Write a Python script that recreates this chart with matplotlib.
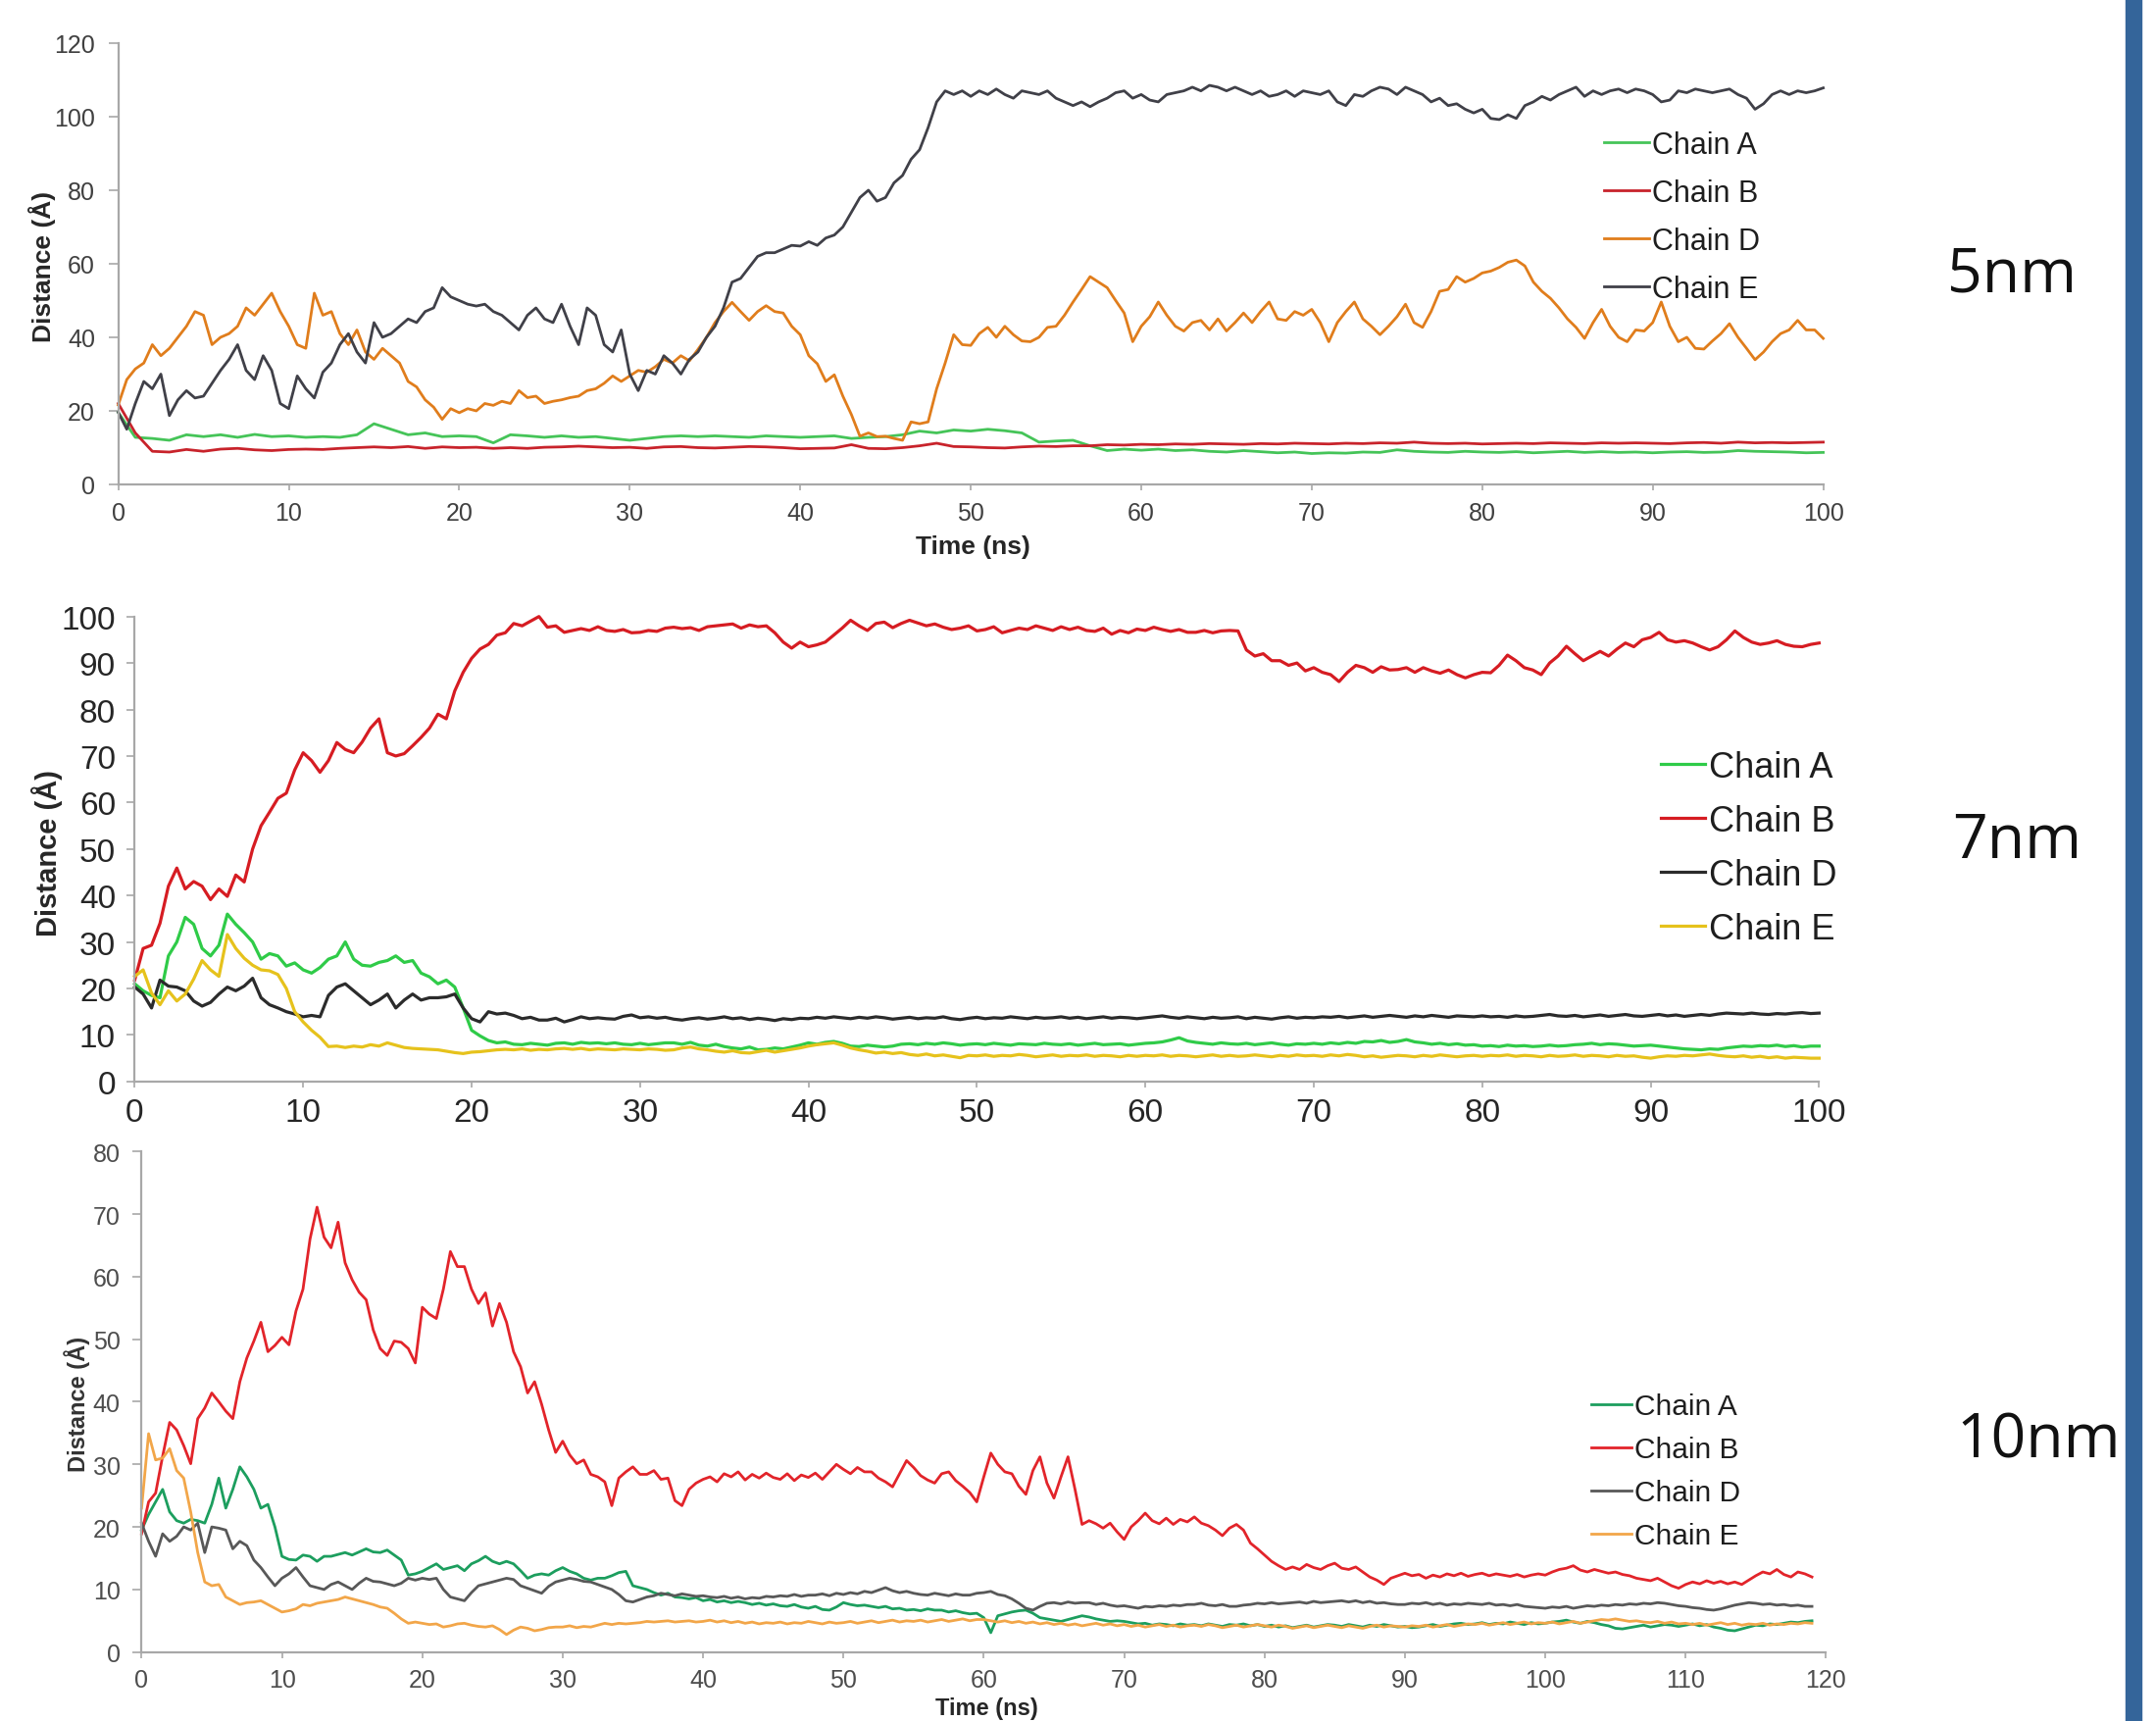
import numpy as np
import matplotlib
matplotlib.use('Agg')
import matplotlib.pyplot as plt
from matplotlib.patches import Rectangle

plt.rcParams['font.family'] = ['Liberation Sans', 'DejaVu Sans']

chains = ['Chain A', 'Chain B', 'Chain D', 'Chain E']
panel_names = ['5nm', '7nm', '10nm']

# ---- 5nm panel ----
# chain A / B read every 1 ns
nm5_a = [19.6, 12.8, 12.5, 12.0, 13.5, 13.0, 13.5, 12.8, 13.6, 13.0,
         13.2, 12.8, 13.0, 12.8, 13.5, 16.5, 15.0, 13.5, 14.0, 13.0,
         13.2, 13.0, 11.3, 13.5, 13.2, 12.8, 13.2, 12.8, 13.0, 12.5,
         12.0, 12.5, 13.0, 13.2, 13.0, 13.2, 13.0, 12.8, 13.2, 13.0,
         12.8, 13.0, 13.2, 12.5, 12.8, 13.0, 13.5, 14.5, 14.0, 14.8,
         14.5, 15.0, 14.6, 14.0, 11.5, 11.8, 12.0, 10.5, 9.2, 9.6,
         9.3, 9.6, 9.2, 9.4, 9.0, 8.8, 9.2, 8.9, 8.6, 8.8,
         8.4, 8.6, 8.5, 8.8, 8.7, 9.4, 9.0, 8.8, 8.7, 9.0,
         8.8, 8.7, 8.9, 8.6, 8.8, 9.0, 8.7, 8.9, 8.7, 8.8,
         8.6, 8.8, 8.9, 8.7, 8.8, 9.2, 9.0, 8.9, 8.8, 8.6,
         8.7]
nm5_b = [22.0, 14.0, 9.0, 8.8, 9.5, 9.0, 9.6, 9.8, 9.4, 9.2,
         9.5, 9.6, 9.5, 9.8, 10.0, 10.2, 10.0, 10.3, 9.8, 10.2,
         10.0, 10.1, 9.8, 10.0, 9.8, 10.1, 10.2, 10.4, 10.2, 10.0,
         10.1, 9.8, 10.2, 10.3, 10.0, 9.9, 10.1, 10.3, 10.2, 10.0,
         9.7, 9.8, 9.9, 10.8, 9.8, 9.7, 10.0, 10.5, 11.2, 10.3,
         10.2, 10.0, 9.9, 10.2, 10.4, 10.3, 10.5, 10.5, 10.8, 10.7,
         10.9, 10.8, 11.0, 10.9, 11.1, 11.0, 10.9, 11.1, 11.0, 11.2,
         11.1, 11.0, 11.2, 11.1, 11.3, 11.2, 11.5, 11.2, 11.1, 11.2,
         11.0, 11.1, 11.2, 11.1, 11.3, 11.2, 11.1, 11.3, 11.2, 11.3,
         11.2, 11.1, 11.3, 11.4, 11.2, 11.5, 11.3, 11.4, 11.3, 11.4,
         11.5]
# chain D / E read every 0.5 ns
nm5_d = [21.6, 28.5, 31.4, 33.0, 38.0, 35.0, 37.0, 40.0, 43.0, 47.0,
         46.0, 38.0, 40.0, 41.0, 43.0, 48.0, 46.0, 49.0, 52.0, 47.0,
         43.0, 38.0, 37.0, 52.0, 46.0, 47.0, 41.0, 38.0, 42.0, 36.0,
         34.0, 37.0, 35.0, 33.0, 28.0, 26.5, 23.0, 21.0, 17.7, 20.6,
         19.5, 20.6, 20.0, 22.0, 21.5, 22.6, 22.0, 25.5, 23.6, 24.0,
         22.0, 22.6, 23.0, 23.6, 24.0, 25.5, 26.0, 27.5, 29.5, 28.0,
         29.5, 31.0, 30.5, 32.0, 34.0, 33.0, 35.0, 33.6, 36.7, 40.0,
         44.0, 47.0, 49.5, 47.0, 44.6, 47.0, 48.6, 47.0, 46.6, 43.0,
         40.7, 35.0, 32.8, 28.0, 29.8, 24.0, 19.0, 13.1, 14.0, 13.0,
         13.1, 12.5, 12.0, 17.0, 16.5, 17.0, 26.0, 33.0, 40.7, 38.0,
         37.8, 41.0, 42.7, 40.0, 43.0, 40.7, 39.0, 38.8, 40.0, 42.7,
         43.0, 46.0, 49.6, 53.0, 56.5, 55.0, 53.5, 50.0, 46.6, 38.8,
         43.0, 45.6, 49.6, 46.0, 43.0, 41.7, 44.0, 44.6, 42.0, 45.0,
         41.7, 44.0, 46.6, 44.0, 47.0, 49.6, 45.0, 44.6, 47.0, 46.0,
         47.6, 44.0, 38.8, 44.0, 47.0, 49.6, 45.0, 43.0, 40.7, 43.0,
         45.6, 49.0, 44.0, 42.7, 47.0, 52.5, 53.0, 56.5, 55.0, 56.0,
         57.5, 58.0, 59.0, 60.4, 61.0, 59.4, 55.0, 52.5, 50.6, 48.0,
         45.0, 42.7, 39.7, 44.0, 47.6, 43.0, 40.0, 38.8, 42.0, 41.7,
         44.0, 49.6, 43.0, 38.8, 40.0, 37.0, 36.8, 39.0, 41.0, 43.7,
         40.0, 37.0, 33.9, 36.0, 38.8, 41.0, 42.0, 44.6, 42.0, 42.0,
         39.7]
nm5_e = [19.6, 15.0, 22.0, 28.0, 26.0, 30.0, 18.7, 23.0, 25.5, 23.5,
         24.0, 27.5, 31.0, 34.0, 38.0, 31.0, 28.5, 35.0, 31.0, 22.0,
         20.6, 29.5, 26.0, 23.5, 30.5, 33.0, 38.0, 41.0, 36.0, 33.0,
         44.0, 40.0, 41.0, 43.0, 45.0, 44.0, 47.0, 48.0, 53.5, 51.0,
         50.0, 49.0, 48.5, 49.0, 47.0, 46.0, 44.0, 42.0, 46.0, 48.0,
         45.0, 44.0, 49.0, 43.0, 38.0, 48.0, 46.0, 38.0, 36.0, 42.0,
         30.0, 25.5, 31.0, 30.0, 35.0, 33.0, 30.0, 34.0, 36.0, 40.0,
         43.0, 48.0, 55.0, 56.0, 59.0, 62.0, 63.0, 63.0, 64.0, 65.0,
         64.8, 66.0, 65.0, 67.0, 67.8, 70.0, 74.0, 78.0, 80.0, 77.0,
         78.0, 82.0, 84.0, 88.4, 91.0, 97.0, 104.0, 107.0, 106.0, 107.0,
         105.5, 107.0, 106.0, 107.5, 106.0, 105.0, 107.0, 106.5, 106.0, 107.0,
         105.0, 104.0, 103.0, 104.0, 102.7, 104.0, 105.0, 106.5, 107.0, 105.0,
         106.0, 104.5, 104.0, 106.0, 106.5, 107.0, 108.0, 107.0, 108.5, 108.0,
         107.0, 108.0, 107.0, 106.0, 107.0, 105.5, 106.0, 107.0, 105.5, 107.0,
         106.5, 106.0, 107.0, 104.0, 103.0, 106.0, 105.5, 107.0, 108.0, 107.5,
         106.0, 108.0, 107.0, 106.0, 104.0, 105.0, 103.0, 103.5, 102.0, 101.0,
         102.0, 99.5, 99.2, 100.5, 99.5, 103.0, 104.0, 105.5, 104.5, 106.0,
         107.0, 108.0, 105.5, 107.0, 106.0, 107.0, 107.5, 106.5, 107.5, 107.0,
         106.0, 104.0, 104.5, 107.0, 106.5, 107.5, 107.0, 106.5, 107.0, 107.5,
         106.0, 105.0, 102.0, 103.5, 106.0, 107.0, 106.0, 107.0, 106.5, 107.0,
         107.8]

# ---- 7nm panel, every 0.5 ns ----
nm7_a = [21.0, 19.5, 18.5, 18.0, 27.0, 30.0, 35.3, 33.8, 28.6, 27.0,
         29.3, 36.0, 33.8, 32.0, 30.0, 26.3, 27.5, 27.0, 24.8, 25.5,
         24.0, 23.3, 24.5, 26.3, 27.0, 30.0, 26.3, 25.0, 24.8, 25.6,
         26.0, 27.0, 25.6, 26.0, 23.3, 22.5, 21.0, 21.8, 20.3, 15.8,
         11.0, 9.8, 8.8, 8.3, 8.5, 8.0, 7.9, 8.2, 8.0, 7.8,
         8.2, 8.3, 8.0, 8.4, 8.2, 8.3, 8.1, 8.3, 8.0, 7.9,
         8.2, 7.9, 8.1, 8.3, 8.3, 8.0, 8.4, 7.8, 7.6, 8.0,
         7.5, 7.2, 7.0, 7.4, 6.8, 6.9, 7.2, 7.0, 7.4, 7.8,
         8.3, 8.0, 8.4, 8.6, 8.2, 7.6, 7.5, 7.8, 7.6, 7.4,
         7.6, 8.0, 8.1, 7.9, 8.2, 8.0, 8.3, 8.1, 7.8, 8.0,
         8.1, 7.9, 8.2, 8.0, 7.8, 8.1, 8.0, 7.9, 8.2, 8.0,
         7.9, 8.1, 7.8, 8.0, 8.2, 7.9, 8.0, 8.1, 7.8, 8.0,
         8.2, 8.3, 8.5, 8.9, 9.4, 8.7, 8.4, 8.2, 8.0, 8.3,
         8.1, 8.0, 8.2, 7.9, 8.1, 8.3, 8.0, 7.8, 8.1, 8.0,
         8.2, 8.0, 8.3, 8.1, 8.4, 8.2, 8.6, 8.5, 8.8, 8.4,
         8.6, 9.0, 8.5, 8.3, 8.0, 8.2, 7.9, 8.1, 7.8, 7.9,
         7.6, 7.7, 7.5, 7.8, 7.6, 7.7, 7.5, 7.6, 7.8, 7.6,
         7.7, 7.9, 8.0, 8.2, 7.9, 8.1, 8.0, 7.8, 7.6, 7.7,
         7.8, 7.6, 7.4, 7.2, 7.0, 6.9, 6.8, 7.0, 6.9, 7.2,
         7.4, 7.6, 7.5, 7.7, 7.6, 7.8, 7.5, 7.7, 7.4, 7.6,
         7.6]
nm7_b = [21.8, 28.6, 29.3, 34.0, 42.0, 45.9, 41.4, 43.0, 42.0, 39.1,
         41.4, 39.8, 44.4, 42.9, 50.0, 55.0, 57.9, 60.9, 62.0, 67.0,
         70.7, 69.0, 66.5, 69.0, 72.9, 71.4, 70.7, 73.0, 76.0, 78.0,
         70.7, 70.0, 70.5, 72.2, 74.0, 76.0, 79.0, 78.0, 84.0, 88.0,
         91.0, 93.0, 94.0, 96.0, 96.5, 98.5, 98.0, 99.0, 100.0, 97.7,
         98.0, 96.6, 97.0, 97.4, 97.0, 97.8, 97.0, 96.8, 97.2, 96.5,
         96.6, 97.0, 96.8, 97.5, 97.7, 97.4, 97.6, 97.0, 97.8, 98.0,
         98.2, 98.4, 97.5, 98.2, 97.8, 98.0, 96.5, 94.5, 93.2, 94.5,
         93.5, 93.9, 94.5, 96.0, 97.5, 99.2, 98.0, 97.0, 98.5, 98.8,
         97.6, 98.5, 99.2, 98.6, 98.0, 98.4, 97.7, 97.2, 97.5, 98.0,
         96.9, 97.2, 97.8, 96.5, 97.0, 97.5, 97.2, 98.0, 97.5, 97.0,
         97.8, 97.2, 97.7, 97.0, 96.8, 97.5, 96.2, 97.0, 96.5, 97.3,
         97.0, 97.7, 97.2, 96.8, 97.2, 96.6, 96.6, 97.0, 96.5, 96.9,
         97.0, 96.9, 92.8, 91.5, 92.0, 90.5, 90.5, 89.5, 90.0, 88.3,
         89.0, 88.0, 87.5, 86.0, 88.0, 89.5, 89.0, 88.0, 89.2, 88.5,
         88.6, 89.0, 88.0, 89.0, 88.3, 87.8, 88.5, 87.5, 86.8, 87.5,
         88.0, 87.9, 89.5, 91.7, 90.5, 89.0, 88.5, 87.5, 90.0, 91.5,
         93.6, 92.0, 90.5, 91.5, 92.5, 91.5, 93.0, 94.3, 93.5, 95.0,
         95.5, 96.6, 95.0, 94.5, 94.8, 94.3, 93.5, 92.8, 93.5, 95.0,
         96.9, 95.5, 94.5, 94.0, 94.3, 94.8, 94.0, 93.6, 93.5, 94.0,
         94.3]
nm7_d = [20.3, 18.8, 15.8, 21.8, 20.5, 20.3, 19.5, 17.3, 16.2, 17.0,
         18.8, 20.3, 19.5, 20.5, 22.2, 18.0, 16.5, 15.8, 15.0, 14.5,
         13.9, 14.2, 13.9, 18.5, 20.3, 21.0, 19.5, 18.0, 16.5, 17.5,
         18.8, 15.8, 17.5, 18.8, 17.5, 18.0, 18.0, 18.2, 18.8, 15.8,
         13.5, 12.8, 15.0, 14.5, 14.7, 14.2, 13.5, 13.8, 13.2, 13.2,
         13.6, 12.8, 13.3, 13.9, 13.5, 13.7, 13.5, 13.4, 14.0, 14.3,
         13.7, 13.9, 13.6, 13.8, 13.4, 13.2, 13.5, 13.7, 13.4, 13.6,
         13.9, 13.5, 13.7, 13.3, 13.6, 13.4, 13.1, 13.5, 13.3, 13.6,
         13.5, 13.8, 13.6, 13.9, 13.7, 13.5, 13.8, 13.6, 13.9, 13.7,
         13.4, 13.6, 13.8, 13.5, 13.7, 13.6, 13.9, 13.5, 13.3, 13.6,
         13.8, 13.5, 13.7, 13.6, 13.9, 13.7, 13.5, 13.8, 13.6, 13.7,
         13.9, 13.6, 13.8, 13.5, 13.7, 13.9, 13.6, 13.8, 13.7, 13.5,
         13.7, 13.9, 14.1, 13.8, 13.6, 13.9, 13.7, 13.5, 13.8, 13.6,
         13.7, 13.9, 13.5, 13.8, 13.6, 13.4, 13.7, 13.9, 13.6, 13.8,
         13.7, 13.9, 13.8, 14.0, 13.7, 13.9, 14.1, 13.8, 14.0, 14.2,
         14.0, 13.8, 14.1, 13.9, 14.2, 14.0, 13.8, 14.1, 14.0, 13.9,
         14.1, 13.9, 14.0, 13.8, 14.1, 13.9, 14.0, 14.2, 14.4, 14.1,
         14.0, 14.2, 13.9, 14.1, 14.3, 14.0, 14.2, 14.4, 14.1, 14.0,
         14.2, 14.4, 14.1, 14.3, 14.0, 14.2, 14.4, 14.2, 14.5, 14.7,
         14.6, 14.5, 14.7, 14.5, 14.4, 14.6, 14.5, 14.7, 14.8, 14.6,
         14.7]
nm7_e = [22.6, 24.0, 19.0, 16.5, 19.5, 17.3, 18.8, 22.0, 26.0, 24.0,
         22.6, 31.6, 28.6, 26.5, 25.0, 24.0, 23.8, 23.0, 20.0, 15.0,
         12.8, 11.0, 9.5, 7.5, 7.6, 7.3, 7.6, 7.4, 7.9, 7.6,
         8.3, 7.8, 7.3, 7.1, 7.0, 6.9, 6.8, 6.5, 6.2, 6.0,
         6.3, 6.4, 6.6, 6.8, 6.9, 6.8, 7.0, 6.7, 6.9, 6.8,
         7.0, 7.1, 6.9, 7.1, 6.8, 7.0, 6.9, 6.8, 7.0, 6.9,
         6.8, 7.0, 6.9, 6.7, 6.8, 7.2, 7.4, 7.0, 6.8, 6.5,
         6.3, 6.6, 6.2, 6.1, 6.4, 6.7, 6.3, 6.6, 6.9, 7.2,
         7.6, 7.9, 8.1, 8.3, 7.8, 7.2, 6.8, 6.5, 6.1, 6.3,
         6.0, 6.2, 5.8, 5.6, 5.9, 5.5, 5.7, 5.4, 5.1, 5.6,
         5.5, 5.7, 5.4, 5.6, 5.5, 5.8, 5.6, 5.3, 5.5, 5.7,
         5.4, 5.6, 5.5, 5.7, 5.4, 5.6, 5.5, 5.3, 5.6, 5.4,
         5.6, 5.5, 5.7, 5.4, 5.6, 5.5, 5.3, 5.5, 5.7, 5.4,
         5.6, 5.4, 5.5, 5.7, 5.5, 5.3, 5.6, 5.4, 5.7, 5.5,
         5.6, 5.4, 5.7, 5.5, 5.8, 5.6, 5.3, 5.5, 5.2, 5.4,
         5.6, 5.5, 5.3, 5.6, 5.4, 5.7, 5.5, 5.3, 5.5, 5.6,
         5.4, 5.6, 5.5, 5.7, 5.4, 5.6, 5.5, 5.3, 5.6, 5.4,
         5.5, 5.7, 5.4, 5.6, 5.5, 5.3, 5.6, 5.4, 5.5, 5.2,
         5.0, 5.3, 5.5, 5.4, 5.6, 5.5, 5.7, 5.9, 5.6, 5.4,
         5.3, 5.5, 5.2, 5.4, 5.1, 5.3, 5.0, 5.2, 5.1, 5.0,
         5.0]

# ---- 10nm panel, every 0.5 ns up to 119 ns ----
nm10_a = [19.5, 22.0, 24.0, 26.0, 22.4, 21.0, 20.6, 21.2, 21.0, 20.6,
          23.6, 27.8, 23.0, 26.0, 29.6, 28.0, 26.0, 23.0, 23.6, 20.0,
          15.3, 14.8, 14.7, 15.5, 15.3, 14.5, 15.3, 15.3, 15.6, 15.9,
          15.5, 16.0, 16.5, 16.0, 15.9, 16.3, 15.5, 14.7, 12.3, 12.5,
          12.9, 13.5, 14.1, 13.2, 13.5, 13.8, 13.0, 14.1, 14.6, 15.3,
          14.5, 14.1, 14.5, 14.1, 13.0, 11.8, 12.3, 12.5, 12.3, 13.0,
          13.5, 12.9, 12.5, 11.8, 11.5, 11.8, 11.8, 12.2, 12.7, 12.9,
          10.6, 10.3, 10.0, 9.5, 9.1, 9.4, 8.8, 8.7, 8.5, 8.7,
          8.2, 8.4, 8.0, 8.2, 7.9, 8.1, 7.9, 7.6, 7.8, 7.5,
          7.7, 7.4, 7.3, 7.6, 7.2, 7.0, 7.3, 6.8, 6.7, 7.2,
          7.9, 7.6, 7.4, 7.5, 7.3, 7.1, 7.3, 6.9, 7.0, 6.7,
          6.8, 6.6, 6.9, 6.7, 6.7, 6.4, 6.6, 6.3, 6.1, 6.2,
          5.5, 3.1, 5.8, 6.1, 6.4, 6.6, 6.7, 6.2, 5.5, 5.3,
          5.1, 4.9, 5.2, 5.5, 5.8, 5.6, 5.3, 5.1, 4.9, 5.0,
          4.9, 4.7, 4.5, 4.6, 4.3, 4.5, 4.4, 4.2, 4.5, 4.3,
          4.4, 4.2, 4.5, 4.3, 4.1, 4.4, 4.3, 4.5, 4.2, 4.4,
          4.1, 4.3, 4.0, 4.2, 3.9, 4.1, 4.3, 4.0, 4.2, 4.4,
          4.3, 4.1, 4.4, 4.2, 4.0, 4.3, 4.1, 4.4, 4.2, 4.0,
          4.1, 3.9, 4.0, 4.2, 4.4, 4.1, 4.3, 4.5, 4.6, 4.4,
          4.5, 4.7, 4.4, 4.6, 4.5, 4.8, 4.6, 4.4, 4.7, 4.5,
          4.6, 4.8, 4.9, 5.1, 4.8, 4.6, 4.9, 4.7, 4.4, 4.2,
          3.8, 3.7, 3.9, 4.1, 4.3, 4.0, 4.2, 4.4, 4.3, 4.1,
          4.3, 4.5, 4.2, 4.4, 4.0, 3.8, 3.5, 3.4, 3.7, 4.0,
          4.3, 4.2, 4.5, 4.4, 4.6, 4.8, 4.7, 4.9, 5.0]
nm10_b = [18.9, 24.0, 25.4, 31.3, 36.7, 35.5, 33.0, 30.1, 37.3, 39.0,
          41.4, 40.0, 38.5, 37.3, 43.2, 47.0, 49.7, 52.7, 48.0, 49.0,
          50.3, 49.1, 54.5, 58.0, 66.0, 71.1, 66.3, 64.6, 68.7, 62.2,
          59.5, 57.5, 56.3, 51.5, 48.5, 47.4, 49.7, 49.5, 48.5, 46.2,
          55.1, 54.0, 53.3, 58.0, 64.0, 61.6, 61.6, 58.0, 55.7, 57.4,
          52.1, 55.7, 52.7, 48.0, 45.6, 41.4, 43.2, 39.6, 35.5, 31.9,
          33.7, 31.5, 30.1, 30.7, 28.4, 28.0, 27.2, 23.4, 27.8, 28.8,
          29.6, 28.4, 28.4, 29.0, 27.6, 27.8, 24.2, 23.4, 26.0, 27.0,
          27.6, 28.0, 27.2, 28.5, 28.0, 28.8, 27.5, 28.4, 27.8, 28.6,
          27.9, 27.6, 28.5, 27.4, 28.3, 27.9, 28.6, 27.6, 28.8, 30.0,
          29.2, 28.5, 29.5, 28.8, 28.8, 27.8, 27.2, 26.4, 28.5, 30.6,
          29.5, 28.2, 27.5, 27.0, 28.5, 28.8, 27.4, 26.5, 25.5, 24.0,
          28.0, 31.8, 30.0, 28.8, 28.5, 26.5, 25.2, 29.0, 31.2, 27.0,
          24.6, 28.0, 31.2, 26.0, 20.4, 21.0, 20.5, 19.8, 20.6, 19.2,
          18.0, 20.0, 21.0, 22.2, 21.0, 20.5, 21.4, 20.4, 21.2, 20.8,
          21.6, 20.6, 20.2, 19.5, 18.6, 19.8, 20.4, 19.5, 17.4, 16.5,
          15.5, 14.5, 13.8, 13.2, 13.6, 13.2, 14.0, 13.5, 13.2, 13.8,
          14.2, 13.4, 13.2, 13.6, 12.8, 12.0, 11.5, 10.8, 11.8, 12.2,
          12.6, 12.2, 12.4, 11.8, 12.3, 12.0, 12.5, 12.2, 12.6, 12.1,
          12.4, 12.6, 12.2, 12.5, 12.3, 12.1, 12.4, 12.0, 12.3, 12.5,
          12.3, 12.8, 13.2, 13.4, 13.8, 13.1, 12.8, 13.2, 12.9, 12.6,
          12.8, 12.4, 12.2, 11.8, 11.6, 11.4, 11.8, 11.2, 10.6, 10.2,
          10.8, 11.2, 10.9, 11.4, 11.0, 11.3, 10.9, 11.2, 10.8, 11.5,
          12.2, 12.8, 12.5, 13.2, 12.4, 12.0, 12.8, 12.5, 12.0]
nm10_d = [20.6, 17.7, 15.3, 18.9, 17.7, 18.5, 20.0, 19.5, 20.6, 15.9,
          20.0, 19.8, 19.5, 16.5, 17.7, 17.0, 14.7, 13.5, 12.0, 10.6,
          11.8, 12.5, 13.5, 12.0, 10.6, 10.3, 10.0, 10.8, 11.2, 10.6,
          10.0, 11.0, 11.8, 11.3, 11.2, 10.9, 10.6, 11.0, 11.8, 11.5,
          11.8, 11.6, 11.8, 10.0, 8.8, 8.5, 8.2, 9.5, 10.6, 10.9,
          11.2, 11.5, 11.8, 11.6, 10.6, 10.2, 9.8, 9.4, 10.5, 11.2,
          11.5, 11.8, 11.6, 11.3, 11.2, 10.8, 10.4, 10.0, 9.2, 8.2,
          8.0, 8.4, 8.8, 9.0, 9.4, 9.2, 9.0, 9.3, 9.1, 8.9,
          9.0, 8.8, 8.7, 8.9, 8.6, 8.8, 8.5, 8.7, 8.6, 8.9,
          8.8, 9.0, 8.9, 9.2, 8.9, 9.1, 9.1, 9.3, 9.0, 9.4,
          9.2, 9.5, 9.3, 9.7, 9.5, 9.9, 10.3, 9.8, 9.5, 9.7,
          9.4, 9.2, 9.1, 9.4, 9.2, 9.0, 9.3, 9.1, 9.1, 9.4,
          9.5, 9.7, 9.2, 9.0, 8.5, 7.8, 7.0, 6.7, 7.3, 7.8,
          7.9, 7.7, 8.0, 7.8, 7.9, 7.9, 7.6, 7.8, 7.5, 7.3,
          7.4, 7.2, 7.0, 7.3, 7.2, 7.4, 7.3, 7.5, 7.4, 7.6,
          7.6, 7.8, 7.5, 7.4, 7.6, 7.3, 7.3, 7.5, 7.6, 7.8,
          7.7, 7.9, 7.7, 7.8, 7.9, 8.0, 7.8, 8.1, 7.9, 8.0,
          8.1, 8.2, 8.0, 8.2, 7.9, 8.1, 7.8, 7.9, 7.7, 7.6,
          7.6, 7.8, 7.7, 7.9, 7.6, 7.8, 7.5, 7.7, 7.6, 7.8,
          7.7, 7.6, 7.8, 7.5, 7.6, 7.4, 7.6, 7.3, 7.2, 7.1,
          7.0, 7.2, 7.1, 7.3, 7.0, 7.2, 7.4, 7.3, 7.5, 7.4,
          7.6, 7.5, 7.7, 7.6, 7.8, 7.7, 7.9, 7.8, 7.6, 7.4,
          7.3, 7.1, 7.0, 6.8, 6.7, 6.9, 7.2, 7.5, 7.7, 7.9,
          7.8, 7.6, 7.7, 7.5, 7.6, 7.4, 7.5, 7.3, 7.3]
nm10_e = [23.0, 34.9, 30.7, 31.0, 32.5, 29.0, 27.8, 22.4, 15.9, 11.2,
          10.6, 10.8, 8.8, 8.2, 7.6, 7.9, 8.0, 8.2, 7.6, 7.0,
          6.4, 6.6, 6.9, 7.6, 7.4, 7.8, 8.0, 8.2, 8.4, 8.8,
          8.5, 8.2, 7.9, 7.6, 7.2, 7.0, 6.2, 5.3, 4.6, 4.8,
          4.6, 4.4, 4.5, 4.0, 4.2, 4.5, 4.6, 4.3, 4.1, 4.0,
          4.2, 3.6, 2.8, 3.5, 4.0, 3.8, 3.4, 3.6, 3.9, 4.0,
          4.0, 4.2, 3.9, 4.1, 4.0, 4.3, 4.6, 4.4, 4.6, 4.5,
          4.6, 4.7, 4.9, 4.8, 4.9, 5.0, 4.8, 4.9, 5.0, 4.8,
          4.9, 5.1, 4.8, 5.0, 4.7, 4.9, 4.6, 4.8, 4.5, 4.7,
          4.6, 4.8, 4.5, 4.7, 4.6, 4.9, 4.7, 4.5, 4.8, 4.6,
          4.7, 4.9, 4.6, 4.8, 5.0, 4.7, 4.9, 5.1, 4.8, 5.0,
          4.9, 5.1, 4.8, 5.0, 5.2, 4.9, 5.1, 5.3, 5.0, 5.2,
          5.2, 5.0, 4.8, 5.0, 4.7, 4.9, 4.6, 4.8, 4.5, 4.7,
          4.4, 4.6, 4.3, 4.5, 4.2, 4.4, 4.6, 4.3, 4.5, 4.2,
          4.4, 4.1, 4.3, 4.0, 4.2, 4.4, 4.1, 4.3, 4.0, 4.2,
          4.3, 4.1, 4.4, 4.2, 3.9, 4.1, 4.3, 4.0, 4.2, 4.4,
          4.2, 4.0, 4.3, 4.1, 3.8, 4.0, 4.2, 3.9, 4.1, 4.3,
          4.1, 3.9, 4.2, 4.0, 3.8, 4.1, 4.3, 4.0, 4.2, 4.1,
          4.0, 4.2, 4.1, 4.3, 4.0, 4.2, 4.4, 4.1, 4.3, 4.5,
          4.4, 4.6, 4.3, 4.5, 4.7, 4.4, 4.6, 4.8, 4.5, 4.7,
          4.6, 4.8, 4.5, 4.7, 4.9, 4.6, 4.8, 5.0, 5.2, 5.1,
          5.3, 5.1, 4.9, 5.0, 4.8, 4.7, 4.9, 4.6, 4.8, 4.5,
          4.6, 4.4, 4.6, 4.3, 4.5, 4.7, 4.4, 4.6, 4.3, 4.5,
          4.4, 4.6, 4.3, 4.5, 4.4, 4.6, 4.5, 4.7, 4.6]

xticks_100 = list(range(0, 101, 10))
xticks_120 = list(range(0, 121, 10))
yticks_5nm = list(range(0, 121, 20))
yticks_7nm = list(range(0, 101, 10))
yticks_10nm = list(range(0, 81, 10))

colors_5nm = ['#45C458', '#C8232B', '#E07D1C', '#404048']
colors_7nm = ['#2FCB48', '#D61C22', '#2B2B2B', '#E6C21C']
colors_10nm = ['#1C9E5E', '#E2242A', '#585858', '#F2A649']

W, H = 2199, 1756


def fx(px):
    return px / W


def fy(py):
    return 1 - py / H


def style_axes(ax, xlim, ylim, xticks, yticks, size, lab_color, ylen, ypad, xpad):
    ax.set_xlim(*xlim)
    ax.set_ylim(*ylim)
    ax.set_xticks(xticks)
    ax.set_yticks(yticks)
    for s in ['top', 'right']:
        ax.spines[s].set_visible(False)
    for s in ['left', 'bottom']:
        ax.spines[s].set_color('#A8A8A8')
        ax.spines[s].set_linewidth(1.6)
    ax.tick_params(axis='y', length=ylen, width=1.2, color='#A8A8A8', pad=ypad,
                   labelsize=size, labelcolor=lab_color)
    ax.tick_params(axis='x', length=4.5, width=1.2, color='#A8A8A8', pad=xpad,
                   labelsize=size, labelcolor=lab_color)
    ax.set_facecolor('none')


def draw(ax, series, steps, colors, lw):
    lines = []
    for vals, step, c, name in zip(series, steps, colors, chains):
        t = np.arange(len(vals)) * step
        ln, = ax.plot(t, vals, color=c, lw=lw, label=name, clip_on=False)
        lines.append(ln)
    return lines


def add_legend(ax, lines, left, top, size, hlen, spacing):
    leg = ax.legend(handles=lines, loc='upper left', bbox_to_anchor=(fx(left), fy(top)),
                    bbox_transform=fig.transFigure, frameon=False, fontsize=size,
                    handlelength=hlen, handletextpad=0.1, labelspacing=spacing,
                    borderpad=0, borderaxespad=0)
    for t in leg.get_texts():
        t.set_color('#1E1E1E')


fig = plt.figure(figsize=(W / 100, H / 100), dpi=100)

# 5nm
ax1 = fig.add_axes([fx(120.6), fy(495), fx(1859.6) - fx(120.6), (495 - 44.9) / H])
l1 = draw(ax1, [nm5_a, nm5_b, nm5_d, nm5_e], [1, 1, 0.5, 0.5], colors_5nm, 2.0)
style_axes(ax1, (0, 100), (0, 120), xticks_100, yticks_5nm, 18, '#404040', 7, 10, 8)
add_legend(ax1, l1, 1636, 134, 22, 1.5, 0.62)
fig.text(fx(43), fy(272), 'Distance (Å)', rotation=90, ha='center', va='center',
         fontsize=19, fontweight='bold', color='#262626')
fig.text(fx(992), fy(558), 'Time (ns)', ha='center', va='center',
         fontsize=19, fontweight='bold', color='#262626')

# 7nm
ax2 = fig.add_axes([fx(137.4), fy(1103.8), fx(1855.4) - fx(137.4), (1103.8 - 629.7) / H])
l2 = draw(ax2, [nm7_a, nm7_b, nm7_d, nm7_e], [0.5] * 4, colors_7nm, 2.3)
style_axes(ax2, (0, 100), (0, 100), xticks_100, yticks_7nm, 24, '#262626', 6, 8, 7)
add_legend(ax2, l2, 1694, 766, 26, 1.25, 0.55)
fig.text(fx(48), fy(870), 'Distance (Å)', rotation=90, ha='center', va='center',
         fontsize=21, fontweight='bold', color='#262626')

# 10nm
ax3 = fig.add_axes([fx(144.4), fy(1685.7), fx(1862.4) - fx(144.4), (1685.7 - 1175.2) / H])
l3 = draw(ax3, [nm10_a, nm10_b, nm10_d, nm10_e], [0.5] * 4, colors_10nm, 2.0)
style_axes(ax3, (0, 120), (0, 80), xticks_120, yticks_10nm, 18, '#4D4D4D', 6.5, 9, 7)
add_legend(ax3, l3, 1623, 1421, 21.5, 1.37, 0.54)
fig.text(fx(79), fy(1432), 'Distance (Å)', rotation=90, ha='center', va='center',
         fontsize=17, fontweight='bold', color='#333333')
fig.text(fx(1006), fy(1754), 'Time (ns)', ha='center', va='bottom',
         fontsize=17, fontweight='bold', color='#262626')

# size labels on the right
label_pos = [(2052, 297), (2057, 875), (2079, 1487)]
for name, (px, py) in zip(panel_names, label_pos):
    fig.text(fx(px), fy(py), name, ha='center', va='baseline',
             fontsize=45, family=['Open Sans', 'DejaVu Sans'], color='#111111')

# blue bar on the right edge
fig.patches.append(Rectangle((fx(2168), 0), fx(16), 1, transform=fig.transFigure,
                             color='#34659A', zorder=0))

fig.savefig('out.png', dpi=100, facecolor='white')
